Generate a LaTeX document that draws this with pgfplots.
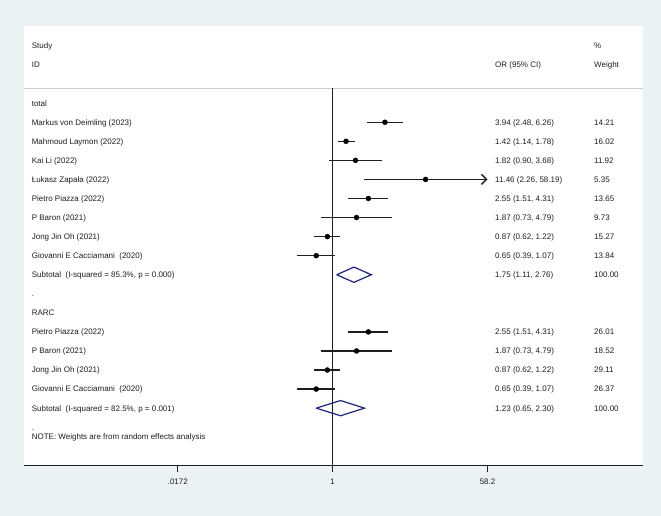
\documentclass[border=0pt]{standalone}
\usepackage{fontspec}
\setmainfont{Liberation Sans}
\usepackage{pgfplots}
\usepackage{pgfplotstable}
\pgfplotsset{compat=1.18}
\usetikzlibrary{arrows.meta}

\definecolor{bgframe}{RGB}{234,242,244}
\definecolor{diamondblue}{RGB}{30,35,120}
\definecolor{inkgray}{RGB}{30,30,30}
\definecolor{rulegray}{RGB}{205,205,205}

% row: slot in the listing (top = 0); est, lo, hi: odds ratio and 95% CI
\pgfplotstableread{
row est lo hi
1 3.94 2.48 6.26
2 1.42 1.14 1.78
3 1.82 0.90 3.68
5 2.55 1.51 4.31
6 1.87 0.73 4.79
7 0.87 0.62 1.22
8 0.65 0.39 1.07
12 2.55 1.51 4.31
13 1.87 0.73 4.79
14 0.87 0.62 1.22
15 0.65 0.39 1.07
}\studies

% interval reaching the upper end of the scale (drawn with an arrow)
\pgfplotstableread{
row est lo hi
4 11.46 2.26 58.19
}\clipped

% pooled random-effects estimates
\pgfplotstableread{
row est lo hi
9 1.75 1.11 2.76
16 1.23 0.65 2.30
}\pooled

\newcommand\rowtext[3]{%
  \node[anchor=base west, font=\fontsize{8}{9}\selectfont, text=inkgray,
        inner sep=0pt, yshift=-2.9pt]
    at ({rel axis cs:#1,0}|-{axis cs:1,-#2}) {#3};}

% draw the interval of every row of a table, with the given line options
\newcommand\drawintervals[2]{%
  \pgfplotstablegetrowsof{#1}%
  \pgfmathtruncatemacro\nlast{\pgfplotsretval-1}%
  \pgfplotsforeachungrouped \i in {0,...,\nlast}{%
    \pgfplotstablegetelem{\i}{row}\of#1 \pgfmathsetmacro\ciRow{-\pgfplotsretval}%
    \pgfplotstablegetelem{\i}{lo}\of#1 \let\ciLo\pgfplotsretval
    \pgfplotstablegetelem{\i}{hi}\of#1 \let\ciHi\pgfplotsretval
    \edef\cmd{\noexpand\addplot[#2] coordinates {(\ciLo,\ciRow) (\ciHi,\ciRow)};}%
    \cmd
  }%
}

\begin{document}
\begin{tikzpicture}[x=1pt,y=1pt]
\fill[bgframe] (0,0) rectangle (661,516);
\useasboundingbox (0,0) rectangle (661,516);
\begin{axis}[
  at={(24pt,50.3pt)}, anchor=south west,
  scale only axis, width=618.7pt, height=439.7pt,
  xmode=log, xmin=3.04e-4, xmax=3410,
  ymin=-19.02, ymax=4.05,
  axis x line=bottom, axis y line=none,
  axis line style={-, line width=1pt, draw=inkgray},
  axis background/.style={fill=white},
  xtick={0.0172,1,58.2},
  xticklabels={\mbox{.0172},\mbox{1},\mbox{58.2}},
  minor xtick={},
  tick align=outside, major tick length=6pt,
  tick style={line width=1pt, draw=inkgray},
  xticklabel style={font=\fontsize{8}{9}\selectfont, text=inkgray, yshift=-4pt},
  clip=false,
]
% header rule and line of no effect
\draw[rulegray, line width=0.8pt]
  ({rel axis cs:0,0}|-{axis cs:1,0.78}) -- ({rel axis cs:1,0}|-{axis cs:1,0.78});
\draw[inkgray, line width=1pt] (axis cs:1,0.78) -- (axis cs:1,-19.02);

% confidence intervals of the single studies
\drawintervals{\studies}{inkgray, line width=1.4pt}
\drawintervals{\clipped}{inkgray, line width=1.4pt, -{Straight Barb[length=5pt,width=10pt,line width=1.4pt]}}

% point estimates
\addplot[only marks, mark=*, mark size=2.5pt, mark options={fill=black, draw=black}]
  table[x=est, y expr=-\thisrow{row}] {\studies};
\addplot[only marks, mark=*, mark size=2.5pt, mark options={fill=black, draw=black}]
  table[x=est, y expr=-\thisrow{row}] {\clipped};

% pooled diamonds
\pgfplotstablegetrowsof{\pooled}
\pgfmathtruncatemacro\nlast{\pgfplotsretval-1}
\pgfplotsforeachungrouped \i in {0,...,\nlast}{
  \pgfplotstablegetelem{\i}{row}\of\pooled \pgfmathsetmacro\ciRow{-\pgfplotsretval}
  \pgfmathsetmacro\ciTop{\ciRow+0.4}
  \pgfmathsetmacro\ciBot{\ciRow-0.4}
  \pgfplotstablegetelem{\i}{est}\of\pooled \let\ciEst\pgfplotsretval
  \pgfplotstablegetelem{\i}{lo}\of\pooled \let\ciLo\pgfplotsretval
  \pgfplotstablegetelem{\i}{hi}\of\pooled \let\ciHi\pgfplotsretval
  \edef\cmd{\noexpand\addplot[diamondblue, line width=1.2pt, line join=miter]
    coordinates {(\ciLo,\ciRow) (\ciEst,\ciTop) (\ciHi,\ciRow) (\ciEst,\ciBot) (\ciLo,\ciRow)};}
  \cmd
}

% column headings
\rowtext{0.0123}{-3}{Study}
\rowtext{0.0123}{-2}{ID}
\rowtext{0.7613}{-2}{OR (95\% CI)}
\rowtext{0.9213}{-3}{\%}
\rowtext{0.9213}{-2}{Weight}

% study labels
\rowtext{0.0123}{0}{total}
\rowtext{0.0123}{1}{Markus von Deimling (2023)}
\rowtext{0.0123}{2}{Mahmoud Laymon (2022)}
\rowtext{0.0123}{3}{Kai Li (2022)}
\rowtext{0.0123}{4}{Łukasz Zapała (2022)}
\rowtext{0.0123}{5}{Pietro Piazza (2022)}
\rowtext{0.0123}{6}{P Baron (2021)}
\rowtext{0.0123}{7}{Jong Jin Oh (2021)}
\rowtext{0.0123}{8}{Giovanni E Cacciamani\ \ (2020)}
\rowtext{0.0123}{9}{Subtotal\ \ (I-squared = 85.3\%, p = 0.000)}
\rowtext{0.0123}{10}{.}
\rowtext{0.0123}{11}{RARC}
\rowtext{0.0123}{12}{Pietro Piazza (2022)}
\rowtext{0.0123}{13}{P Baron (2021)}
\rowtext{0.0123}{14}{Jong Jin Oh (2021)}
\rowtext{0.0123}{15}{Giovanni E Cacciamani\ \ (2020)}
\rowtext{0.0123}{16}{Subtotal\ \ (I-squared = 82.5\%, p = 0.001)}
\rowtext{0.0123}{17}{.}
\rowtext{0.0123}{17.5}{NOTE: Weights are from random effects analysis}

% estimates and weights
\rowtext{0.7613}{1}{3.94 (2.48, 6.26)}   \rowtext{0.9213}{1}{14.21}
\rowtext{0.7613}{2}{1.42 (1.14, 1.78)}   \rowtext{0.9213}{2}{16.02}
\rowtext{0.7613}{3}{1.82 (0.90, 3.68)}   \rowtext{0.9213}{3}{11.92}
\rowtext{0.7613}{4}{11.46 (2.26, 58.19)} \rowtext{0.9213}{4}{5.35}
\rowtext{0.7613}{5}{2.55 (1.51, 4.31)}   \rowtext{0.9213}{5}{13.65}
\rowtext{0.7613}{6}{1.87 (0.73, 4.79)}   \rowtext{0.9213}{6}{9.73}
\rowtext{0.7613}{7}{0.87 (0.62, 1.22)}   \rowtext{0.9213}{7}{15.27}
\rowtext{0.7613}{8}{0.65 (0.39, 1.07)}   \rowtext{0.9213}{8}{13.84}
\rowtext{0.7613}{9}{1.75 (1.11, 2.76)}   \rowtext{0.9213}{9}{100.00}
\rowtext{0.7613}{12}{2.55 (1.51, 4.31)}  \rowtext{0.9213}{12}{26.01}
\rowtext{0.7613}{13}{1.87 (0.73, 4.79)}  \rowtext{0.9213}{13}{18.52}
\rowtext{0.7613}{14}{0.87 (0.62, 1.22)}  \rowtext{0.9213}{14}{29.11}
\rowtext{0.7613}{15}{0.65 (0.39, 1.07)}  \rowtext{0.9213}{15}{26.37}
\rowtext{0.7613}{16}{1.23 (0.65, 2.30)}  \rowtext{0.9213}{16}{100.00}
\end{axis}
\end{tikzpicture}
\end{document}
